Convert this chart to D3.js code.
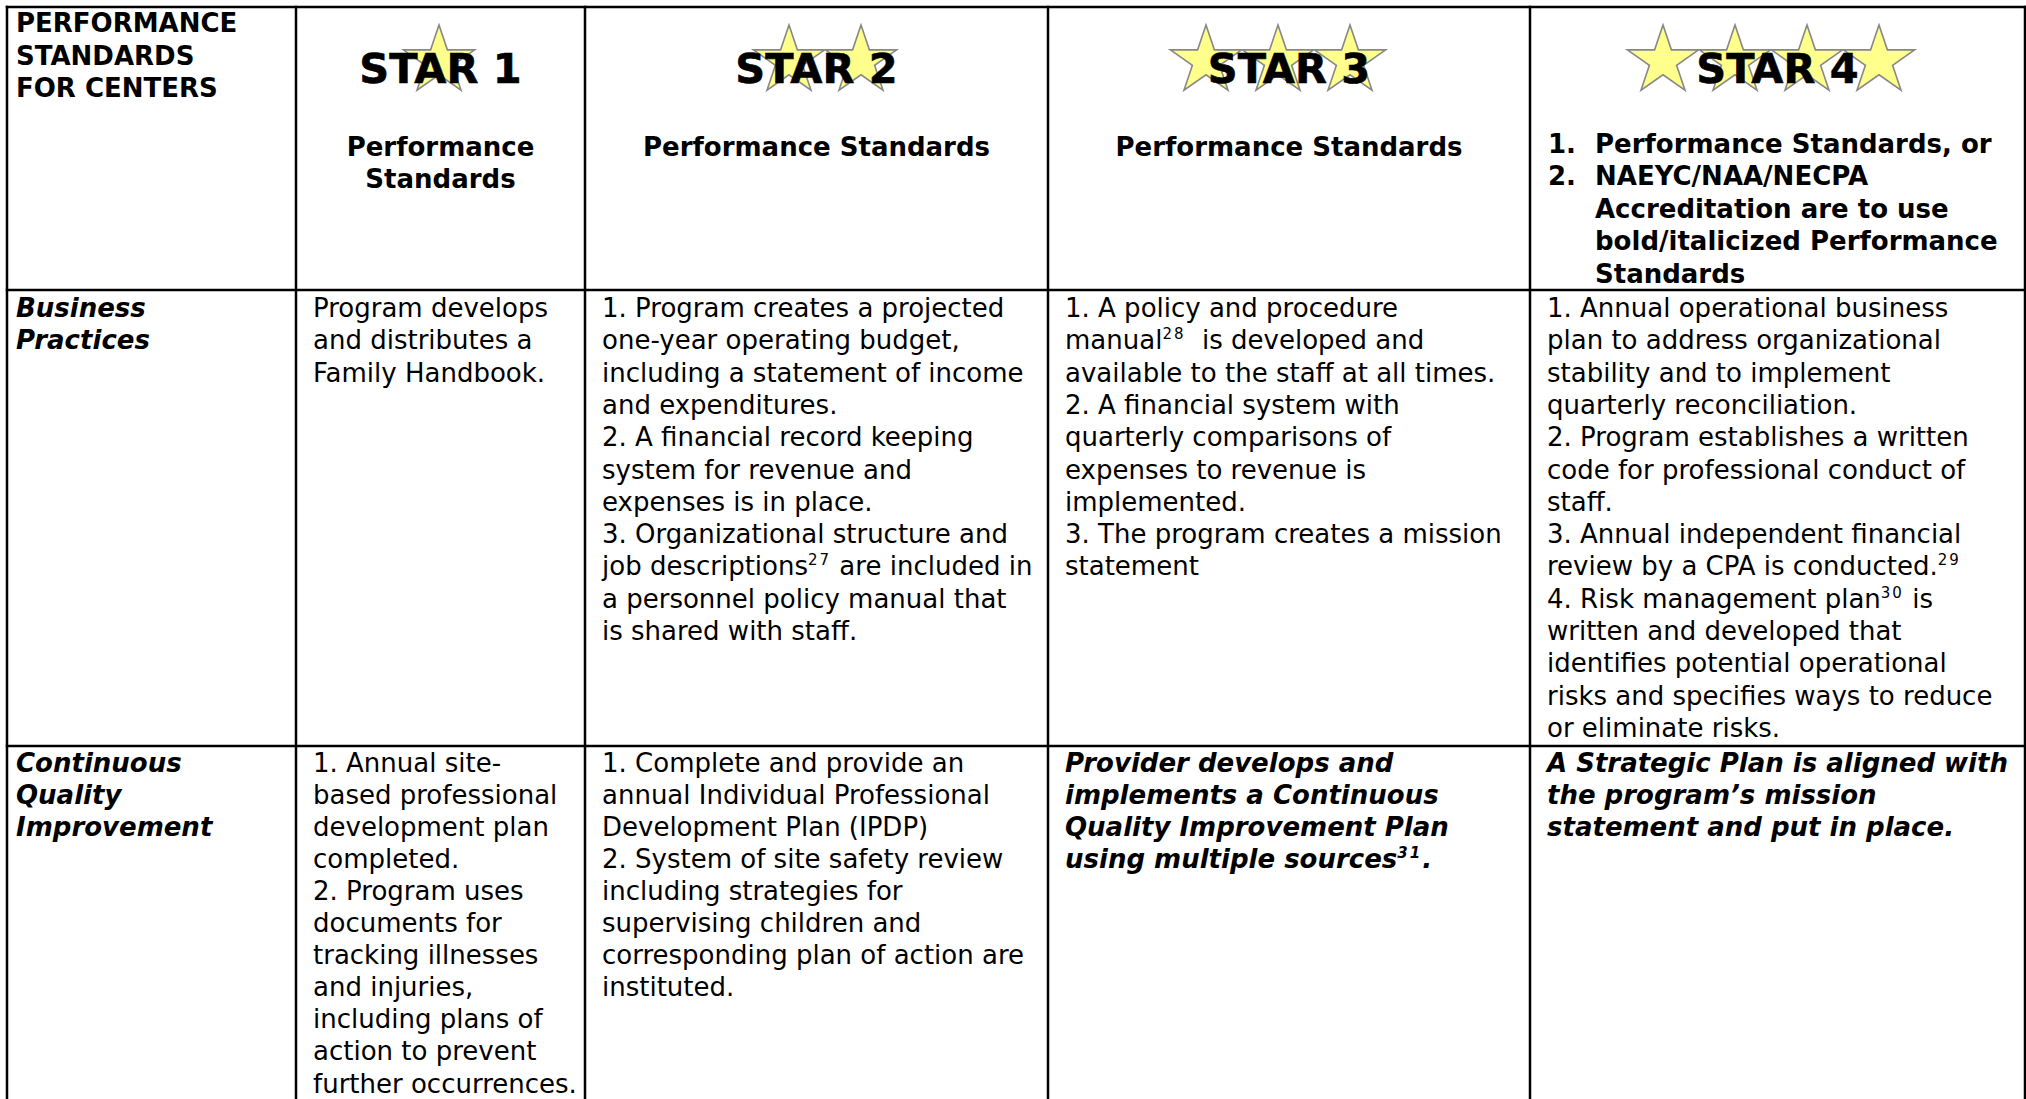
<!DOCTYPE html>
<html>
<head>
<meta charset="utf-8">
<script src="https://cdn.jsdelivr.net/npm/d3@7"></script>
<style>
  html, body { margin: 0; padding: 0; background: #fff; }
  svg { display: block; }
  text { font-family: "DejaVu Sans", Verdana, sans-serif; fill: #000; white-space: pre; }
</style>
</head>
<body>
<svg id="chart" width="2026" height="1099"></svg>
<script>
// ---------------- DATA ----------------
const cornerLabel = ["PERFORMANCE", "STANDARDS", "FOR CENTERS"];
const starTitles = ["STAR 1", "STAR 2", "STAR 3", "STAR 4"];
const starCounts = [1, 2, 3, 4];
const starSubtitles = [
  ["Performance", "Standards"],
  ["Performance Standards"],
  ["Performance Standards"]
];
const star4Options = [
  { num: "1.", lines: ["Performance Standards, or"] },
  { num: "2.", lines: ["NAEYC/NAA/NECPA", "Accreditation are to use", "bold/italicized Performance", "Standards"] }
];
const rowKeys = ["business", "cqi"];
const rowLabels = [["Business", "Practices"], ["Continuous", "Quality", "Improvement"]];

const businessPractices = [
  ["Program develops", "and distributes a", "Family Handbook."],
  ["1. Program creates a projected", "one-year operating budget,", "including a statement of income",
   "and expenditures.", "2. A financial record keeping", "system for revenue and",
   "expenses is in place.", "3. Organizational structure and", "job descriptions^27 are included in",
   "a personnel policy manual that", "is shared with staff."],
  ["1. A policy and procedure", "manual^28  is developed and", "available to the staff at all times.",
   "2. A financial system with", "quarterly comparisons of", "expenses to revenue is",
   "implemented.", "3. The program creates a mission", "statement"],
  ["1. Annual operational business", "plan to address organizational", "stability and to implement",
   "quarterly reconciliation.", "2. Program establishes a written", "code for professional conduct of",
   "staff.", "3. Annual independent financial", "review by a CPA is conducted.^29",
   "4. Risk management plan^30 is", "written and developed that", "identifies potential operational",
   "risks and specifies ways to reduce", "or eliminate risks."]
];
const continuousQuality = [
  ["1. Annual site-", "based professional", "development plan", "completed.", "2. Program uses",
   "documents for", "tracking illnesses", "and injuries,", "including plans of",
   "action to prevent", "further occurrences."],
  ["1. Complete and provide an", "annual Individual Professional", "Development Plan (IPDP)",
   "2. System of site safety review", "including strategies for", "supervising children and",
   "corresponding plan of action are", "instituted."],
  ["Provider develops and", "implements a Continuous", "Quality Improvement Plan", "using multiple sources^31."],
  ["A Strategic Plan is aligned with", "the program\u2019s mission", "statement and put in place."]
];
// which body cells are bold italic (columns 3 and 4 of the last row)
const cqiEmphasis = [false, false, true, true];

// ---------------- LAYOUT ----------------
const W = 2026, H = 1099;
const colEdges = [7, 296, 585, 1048, 1530, 2025];
const rowEdges = [7, 290, 746, H];
const x = d3.scaleOrdinal().domain(d3.range(5)).range(colEdges.slice(0, 5));
const xEnd = d3.scaleOrdinal().domain(d3.range(5)).range(colEdges.slice(1));
const y = d3.scaleOrdinal().domain(["header", ...rowKeys]).range(rowEdges.slice(0, 3));
const colCenter = i => (x(i) + xEnd(i)) / 2;

const padX = 17;
const padX0 = 9;
const FS = 26;

const svg = d3.select("#chart");

// ---------- helper: write a line with ^superscripts ----------
function writeLine(sel, str, supSize) {
  const parts = str.split(/(\^\d+)/).filter(s => s.length);
  let pending = 0;
  parts.forEach(p => {
    if (p.startsWith("^")) {
      sel.append("tspan").attr("dy", -10 - pending).attr("font-size", supSize)
        .attr("letter-spacing", 2).text(p.slice(1));
      pending = -10;
    } else {
      const t = sel.append("tspan").text(p);
      if (pending) { t.attr("dy", -pending); pending = 0; }
    }
  });
}

function writeBlock(lines, x0, y0, opts) {
  const g = svg.append("g");
  lines.forEach((ln, i) => {
    const t = g.append("text")
      .attr("x", x0)
      .attr("y", y0 + i * opts.lh)
      .attr("font-size", opts.size || FS)
      .attr("font-weight", opts.bold ? "bold" : "normal")
      .attr("font-style", opts.italic ? "italic" : "normal")
      .attr("text-anchor", opts.anchor || "start");
    writeLine(t, ln, opts.supSize || 16);
  });
  return g;
}

// ---------- stars ----------
function starPath(cx, cy, R, sx) {
  const r = R * 0.382;
  const pts = [];
  for (let k = 0; k < 10; k++) {
    const a = -Math.PI / 2 + k * Math.PI / 5;
    const rad = k % 2 === 0 ? R : r;
    pts.push([cx + Math.cos(a) * rad * sx, cy + Math.sin(a) * rad]);
  }
  return d3.line()(pts) + "Z";
}
const starOffsets = [-1.5, 8.5, -11, -6.5];
const starSpacing = 72, starR = 36, starCy = 61;

starCounts.forEach((n, i) => {
  const c = colCenter(i + 1) + starOffsets[i];
  const first = c - (n - 1) * starSpacing / 2;
  svg.append("g").selectAll("path")
    .data(d3.range(n))
    .join("path")
    .attr("d", k => starPath(first + k * starSpacing, starCy, starR, 1.04))
    .attr("fill", "#ffff8c")
    .attr("stroke", "#888")
    .attr("stroke-width", 1.6)
    .attr("stroke-linejoin", "miter");
});

// ---------- header texts ----------
writeBlock(cornerLabel, x(0) + padX0, 32, { bold: true, lh: 32.5 });

starTitles.forEach((t, i) => {
  svg.append("text")
    .attr("x", colCenter(i + 1))
    .attr("y", 83)
    .attr("font-size", 41.5)
    .attr("font-weight", "bold")
    .attr("stroke", "#000")
    .attr("stroke-width", 0.6)
    .attr("text-anchor", "middle")
    .text(t);
});

starSubtitles.forEach((lines, i) => {
  writeBlock(lines, colCenter(i + 1), 156, { bold: true, anchor: "middle", lh: 32 });
});

let optLine = 0;
star4Options.forEach(o => {
  svg.append("text")
    .attr("x", x(4) + 18)
    .attr("y", 153 + optLine * 32.4)
    .attr("font-size", FS)
    .attr("font-weight", "bold")
    .text(o.num);
  writeBlock(o.lines, x(4) + 65, 153 + optLine * 32.4, { bold: true, lh: 32.4 });
  optLine += o.lines.length;
});

// ---------- body rows ----------
const rowData = { business: businessPractices, cqi: continuousQuality };
const rowBase = { business: 27, cqi: 25.5 };
const rowLH = { business: 32.3, cqi: 32.1 };
rowKeys.forEach((rk, ri) => {
  const top = y(rk);
  const base = top + rowBase[rk];
  writeBlock(rowLabels[ri], x(0) + padX0, base, { bold: true, italic: true, lh: 32 });
  rowData[rk].forEach((lines, ci) => {
    const emph = rk === "cqi" && cqiEmphasis[ci];
    writeBlock(lines, x(ci + 1) + padX, base, { bold: emph, italic: emph, supSize: 15, lh: rowLH[rk] });
  });
});

// ---------- grid lines ----------
const grid = svg.append("g").attr("stroke", "#000").attr("stroke-width", 2.5);
grid.selectAll("line.h")
  .data(rowEdges.slice(0, 3))
  .join("line")
  .attr("x1", colEdges[0] - 1.25).attr("x2", colEdges[5] + 1.25)
  .attr("y1", d => d).attr("y2", d => d);
grid.selectAll("line.v")
  .data(colEdges)
  .join("line")
  .attr("x1", d => d).attr("x2", d => d)
  .attr("y1", rowEdges[0] - 1.25).attr("y2", H);
</script>
</body>
</html>
